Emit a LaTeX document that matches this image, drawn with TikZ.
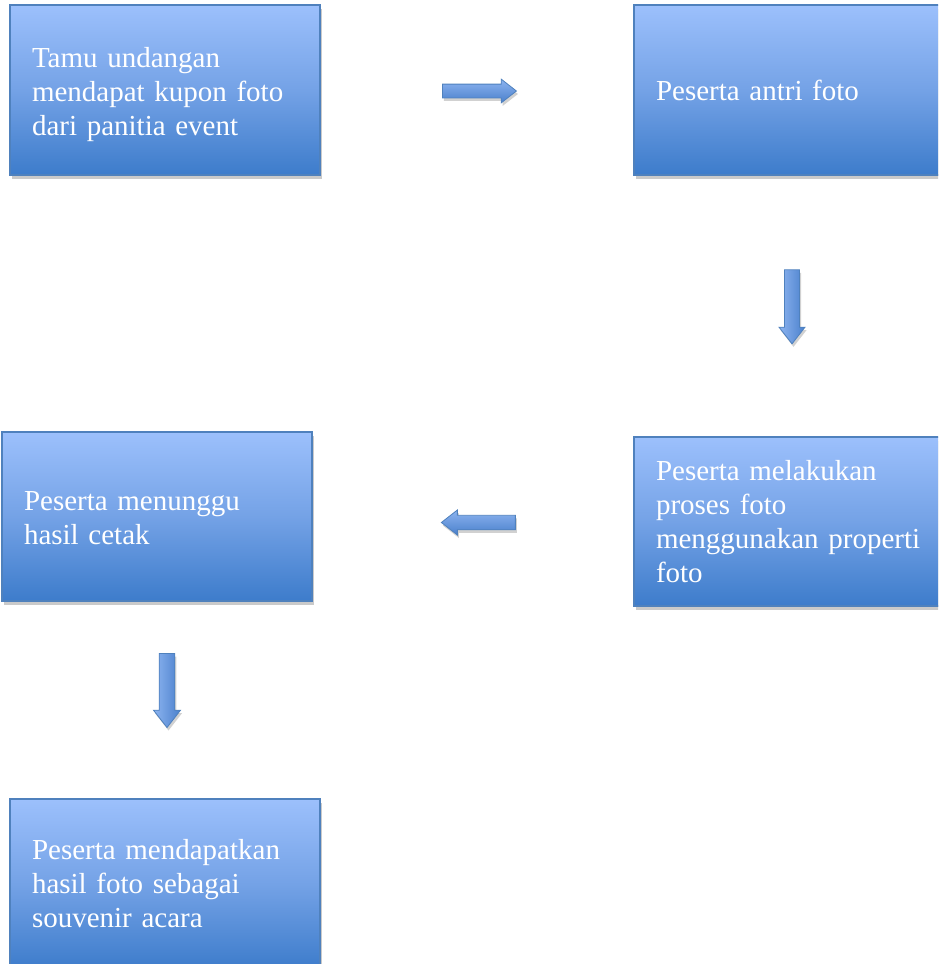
\documentclass[tikz,border=0pt]{standalone}
\usepackage{fontspec}
\setmainfont{Liberation Serif}
\usetikzlibrary{shapes.arrows,shadows}
\definecolor{boxtop}{HTML}{9CC0FC}
\definecolor{boxmid}{HTML}{74A2E6}
\definecolor{boxbot}{HTML}{3D7CCB}
\definecolor{boxline}{HTML}{4F81BD}
\definecolor{arrtop}{HTML}{8DB4F0}
\definecolor{arrbot}{HTML}{4A80CC}
\tikzset{
  stepbox/.style={rectangle, draw=boxline, line width=1.2pt,
    top color=boxtop, bottom color=boxbot, middle color=boxmid,
    minimum width=310pt, minimum height=170pt, inner xsep=22pt, inner ysep=0pt,
    text width=266pt, align=left, text=white,
    font=\fontsize{29}{34}\selectfont,
    drop shadow={opacity=0.35, shadow xshift=2pt, shadow yshift=-4pt, fill=black!60}},
  blockarrow/.style={single arrow, draw=boxline, line width=0.8pt,
    minimum height=74pt, single arrow head extend=5pt,
    single arrow tip angle=76, text height=0pt, text depth=0pt, text width=0pt,
    drop shadow={opacity=0.3, shadow xshift=1.5pt, shadow yshift=-3pt, fill=black!60}},
  harrow/.style={blockarrow, top color=arrtop, bottom color=arrbot,
    inner xsep=0pt, inner ysep=6.5pt},
  varrow/.style={blockarrow, shape border rotate=270, left color=arrtop, right color=arrbot,
    inner xsep=6.5pt, inner ysep=0pt}
}
\begin{document}
\begin{tikzpicture}[x=1pt,y=-1pt]
\useasboundingbox (0,0) rectangle (938,964);
\clip (0,0) rectangle (938,964);
\node[stepbox] (b1) at (165,90) {\rule{0pt}{30pt}Tamu undangan\\mendapat kupon foto\\dari panitia event};
\node[stepbox] (b2) at (789,90) {Peserta antri foto};
\node[stepbox, minimum height=169pt] (b3) at (789,521.5) {Peserta melakukan\\proses foto\\menggunakan properti\\foto};
\node[stepbox, minimum height=169pt] (b4) at (157,516.5) {\rule{0pt}{22pt}Peserta menunggu\\hasil cetak};
\node[stepbox] (b5) at (165,884) {Peserta mendapatkan\\hasil foto sebagai\\souvenir acara};
\node[harrow, minimum width=23pt] (a1) at (475,91) {};
\node[varrow, minimum width=26pt] (a2) at (792,302) {};
\node[harrow, minimum width=25pt, shape border rotate=180] (a3) at (483,522.5) {};
\node[varrow, minimum width=27pt] (a4) at (167,685.5) {};
\end{tikzpicture}
\end{document}
